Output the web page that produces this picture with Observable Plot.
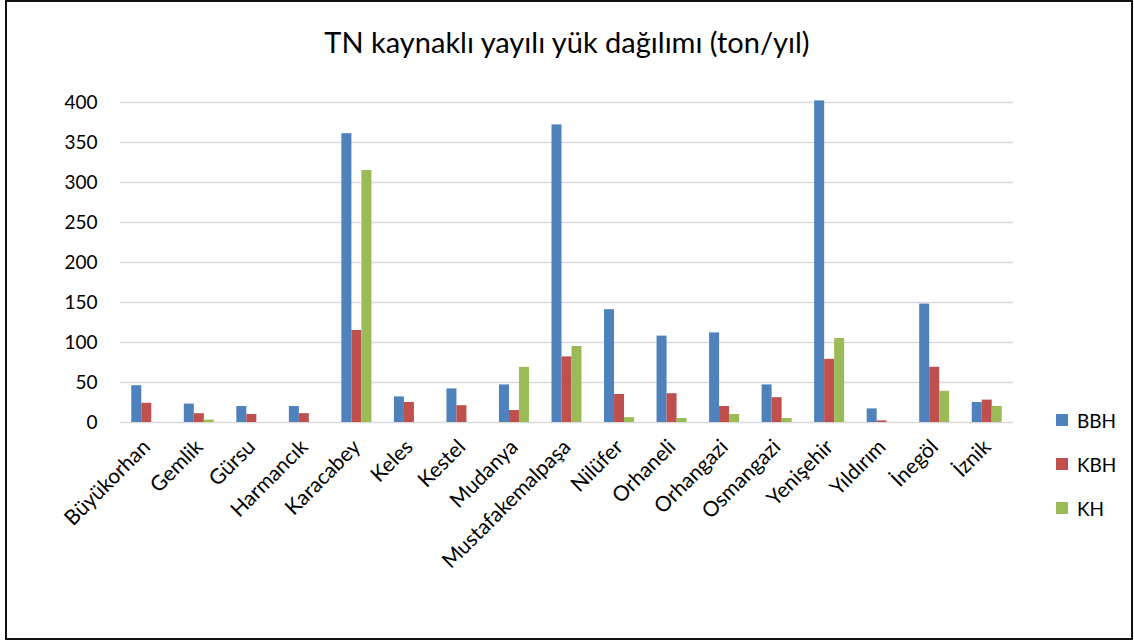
<!DOCTYPE html>
<html>
<head>
<meta charset="utf-8">
<script src="https://cdn.jsdelivr.net/npm/d3@7"></script>
<script src="https://cdn.jsdelivr.net/npm/@observablehq/plot@0.6"></script>
<style>
  html, body { margin: 0; padding: 0; background: #fff; }
  #wrap { position: relative; width: 1134px; height: 641px; overflow: hidden; font-family: Lato, "Open Sans", sans-serif; }
  #frame { position: absolute; left: 5px; top: 0px; width: 1124px; height: 636px; border: 2px solid #111; box-sizing: content-box; pointer-events: none; }
  #title { position: absolute; left: 0; top: 0; width: 1134px; height: 80px; line-height: 84px; text-align: center; font-size: 29px; color: #000; }
  #chart { position: absolute; left: 0; top: 80px; }
  #legend { position: absolute; left: 1056px; top: 398px; font-size: 19px; color: #000; }
  .item { display: flex; align-items: center; height: 44px; }
  .sw { width: 12px; height: 12px; margin-right: 9px; }
</style>
</head>
<body>
<div id="wrap">
  <div id="title"></div>
  <div id="chart"></div>
  <div id="legend"></div>
  <div id="frame"></div>
</div>
<script>
const title = "TN kaynaklı yayılı yük dağılımı (ton/yıl)";
const cities = ["Büyükorhan","Gemlik","Gürsu","Harmancık","Karacabey","Keles","Kestel","Mudanya","Mustafakemalpaşa","Nilüfer","Orhaneli","Orhangazi","Osmangazi","Yenişehir","Yıldırım","İnegöl","İznik"];
const seriesNames = ["BBH","KBH","KH"];
const colors = ["#4F81BD","#C0504D","#9BBB59"];
const BBH = [46, 23, 20, 20, 361, 32, 42, 47, 372, 141, 108, 112, 47, 402, 17, 148, 25];
const KBH = [24, 11, 10, 11, 115, 25, 21, 15, 82, 35, 36, 20, 31, 79, 2, 69, 28];
const KH  = [0, 3, 0, 0, 315, 0, 0, 69, 95, 6, 5, 10, 5, 105, 0, 39, 20];
const yTicks = [0, 50, 100, 150, 200, 250, 300, 350, 400];

document.getElementById("title").textContent = title;

const valuesBySeries = [BBH, KBH, KH];
const data = [];
seriesNames.forEach((s, si) => cities.forEach((c, ci) => data.push({city: c, series: s, value: valuesBySeries[si][ci]})));

const offsets = [-10, 0, 10];
const marks = [
  Plot.gridY(yTicks, {stroke: "#d9d9d9", strokeOpacity: 1, strokeWidth: 1.5}),
  Plot.axisY(yTicks, {tickSize: 0, tickPadding: 23, fontSize: 19, fill: "#000"}),
  Plot.axisX({tickSize: 0, tickRotate: -45, tickPadding: 21, fontSize: 21, fill: "#000"})
];
seriesNames.forEach((s, si) => {
  marks.push(Plot.barY(data.filter(d => d.series === s), {x: "city", y: "value", fill: colors[si], dx: offsets[si]}));
});

const svg = Plot.plot({
  width: 1134,
  height: 561,
  marginTop: 22,
  marginBottom: 219,
  marginLeft: 120,
  marginRight: 121,
  style: {fontFamily: "Lato, 'Open Sans', sans-serif", background: "transparent"},
  x: {domain: cities, paddingInner: 0.8095, paddingOuter: 0.405, round: false, label: null},
  y: {domain: [0, 400], label: null},
  marks
});
document.getElementById("chart").appendChild(svg);

const leg = document.getElementById("legend");
seriesNames.forEach((s, si) => {
  const it = document.createElement("div");
  it.className = "item";
  it.innerHTML = `<div class="sw" style="background:${colors[si]}"></div><span>${s}</span>`;
  leg.appendChild(it);
});
</script>
</body>
</html>
